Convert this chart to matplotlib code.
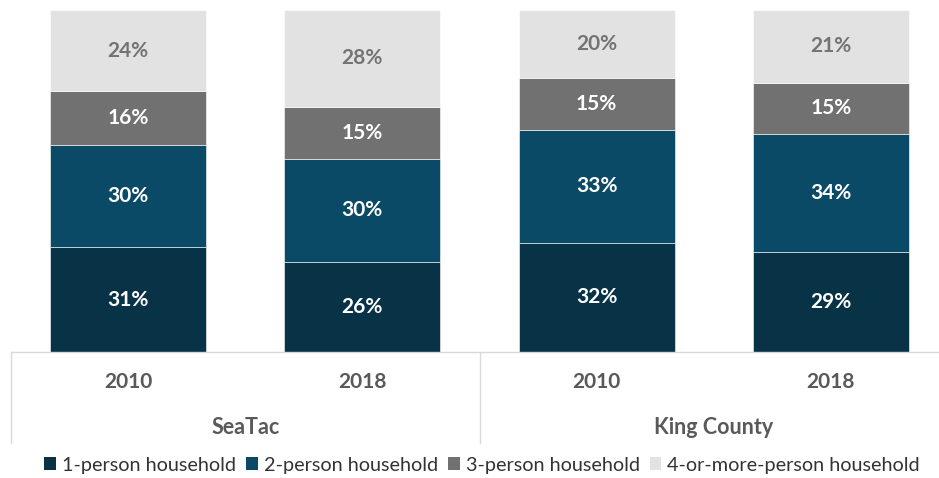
import numpy as np
import matplotlib
matplotlib.use('Agg')
import matplotlib.pyplot as plt
from matplotlib.patches import Patch

# Household size shares (%), per place and year
groups = ['SeaTac', 'King County']
years = ['2010', '2018', '2010', '2018']
series_names = ['1-person household', '2-person household',
                '3-person household', '4-or-more-person household']
one_person = [31, 26, 32, 29]
two_person = [30, 30, 33, 34]
three_person = [16, 15, 15, 15]
four_plus = [24, 28, 20, 21]

colors = ['#083246', '#0b4a66', '#717171', '#e2e2e2']
label_colors = ['white', 'white', 'white', '#737373']

plt.rcParams['font.family'] = ['Lato', 'DejaVu Sans']

values = np.array([one_person, two_person, three_person, four_plus], dtype=float)
# each bar is stacked to 100%
shares = values / values.sum(axis=0) * 100

fig = plt.figure(figsize=(9.39, 4.78), dpi=100)
ax = fig.add_axes([11 / 939, 126 / 478, 937 / 939, 342 / 478])

x = np.arange(len(years))
bottom = np.zeros(len(years))
for i, name in enumerate(series_names):
    ax.bar(x, shares[i], 0.666, bottom=bottom, color=colors[i],
           edgecolor='#ffffff', linewidth=0.4, label=name)
    for xi, b, h, v in zip(x, bottom, shares[i], values[i]):
        ax.text(xi, b + h / 2, f'{v:.0f}%', ha='center', va='center',
                fontsize=15, fontweight='bold', color=label_colors[i])
    bottom += shares[i]

ax.set_xlim(-0.5, 3.5)
ax.set_ylim(0, 100)
ax.set_yticks([])
ax.set_xticks([])
for s in ['top', 'right', 'left']:
    ax.spines[s].set_visible(False)
ax.spines['bottom'].set_color('#d9d9d9')
ax.spines['bottom'].set_linewidth(1)

# two-level category axis drawn below the bars
trans = ax.get_xaxis_transform()
px = 1 / 342  # one pixel in axes-y units
for xv in [-0.5, 1.5]:
    ax.plot([xv, xv], [0, -91 * px], transform=trans, color='#d9d9d9',
            lw=1, clip_on=False)
for xi, yr in zip(x, years):
    ax.text(xi, -30 * px, yr, transform=trans, ha='center', va='center',
            fontsize=15, fontweight='bold', color='#595959')
for gi, g in enumerate(groups):
    ax.text(gi * 2 + 0.5, -75 * px, g, transform=trans, ha='center',
            va='center', fontsize=15.5, fontweight='bold', color='#595959')

handles = [Patch(facecolor=c, edgecolor='none') for c in colors]
fig.legend(handles, series_names, loc='center', ncol=4,
           bbox_to_anchor=(482 / 939, 1 - 465 / 478), frameon=False,
           fontsize=14.3, handlelength=0.6, handleheight=0.6,
           handletextpad=0.3, columnspacing=0.5, labelcolor='#333333')

fig.savefig('out.png', dpi=100)
